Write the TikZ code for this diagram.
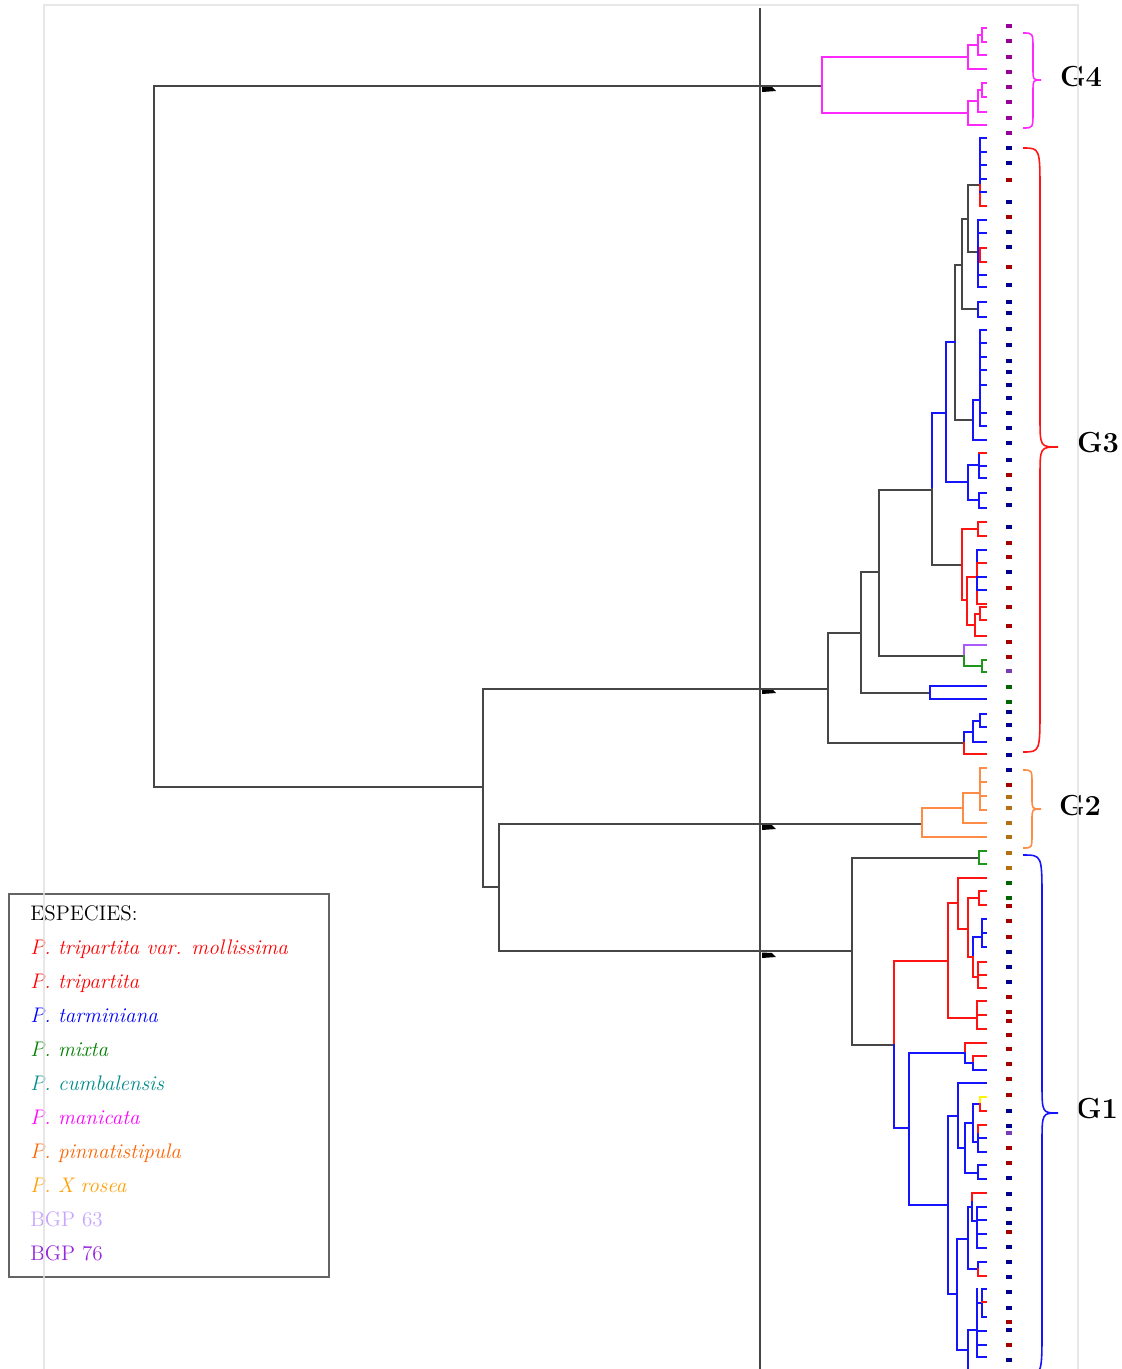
\documentclass[tikz,border=0pt]{standalone}
\usepackage{tikz}

\definecolor{treegray}{RGB}{70,70,70}
\definecolor{tblue}{RGB}{20,20,255}
\definecolor{tred}{RGB}{255,20,20}
\definecolor{tmag}{RGB}{255,40,255}
\definecolor{torange}{RGB}{255,140,70}
\definecolor{tgreen}{RGB}{30,150,30}
\definecolor{tpurple}{RGB}{170,90,255}
\definecolor{tyellow}{RGB}{255,245,0}
\definecolor{labB}{RGB}{0,0,140}
\definecolor{labR}{RGB}{165,0,0}
\definecolor{labP}{RGB}{150,0,150}
\definecolor{labO}{RGB}{180,110,20}
\definecolor{labG}{RGB}{0,100,0}
\definecolor{labV}{RGB}{120,60,180}
\definecolor{lred}{RGB}{255,0,0}
\definecolor{lblue}{RGB}{0,0,255}
\definecolor{lgreen}{RGB}{0,128,0}
\definecolor{lteal}{RGB}{0,140,140}
\definecolor{lmag}{RGB}{255,0,255}
\definecolor{lpinna}{RGB}{255,100,0}
\definecolor{lrosea}{RGB}{255,160,0}
\definecolor{lbgpa}{RGB}{200,165,255}
\definecolor{lbgpb}{RGB}{150,40,220}
\definecolor{framegray}{RGB}{225,225,225}

\tikzset{
  branch/.style={line width=1.1pt, line cap=rect},
  gbrace/.style={line width=0.9pt},
  glabel/.style={font=\fontsize{16.5}{19}\selectfont\bfseries},
  legtext/.style={font=\fontsize{12}{14}\selectfont, anchor=base west, inner sep=0pt}
}

\begin{document}
\begin{tikzpicture}[x=0.02cm,y=-0.02cm]
  \useasboundingbox (0,0) rectangle (1122,1369);
  \clip (0,0) rectangle (1122,1369);

  % Eje de corte
  \draw[treegray, line width=1.4pt] (760,8) -- (760,1369);
  \foreach \y in {86,688,824,952}
    \fill[black] (762,\y+0.5) -- (772,\y+1) -- (776,\y+5) -- (762,\y+6) -- cycle;

  % Clados: X/ya/xa/yb/xb/color arriba/color abajo
  \foreach \X/\ya/\xa/\yb/\xb/\ca/\cb in {
      154/86/822/787/483/treegray/treegray, 483/689/828/887/499/treegray/treegray,
      499/824/922/951/852/treegray/treegray, 852/858/979/1045/894/treegray/treegray,
      828/633/861/743/964/treegray/treegray, 861/572/879/693/930/treegray/treegray,
      879/490/932/656/964/treegray/treegray, 955/265/962/420/973/treegray/treegray,
      962/219/968/309/978/treegray/treegray, 968/185/980/252/978/treegray/treegray,
      932/413/946/565/962/tblue/treegray,
      % G4
      822/57/968/113/968/tmag/tmag, 968/45/978/69/986/tmag/tmag,
      978/35/982/55/986/tmag/tmag, 982/28/986/42/986/tmag/tmag,
      968/101/978/125/986/tmag/tmag, 978/90/982/112/986/tmag/tmag,
      982/83/986/97/986/tmag/tmag,
      % G3
      946/342/955/482/968/tblue/tblue, 968/465/979/500/979/tblue/tblue,
      962/529/978/600/967/tred/tred, 967/577/977/625/975/tred/tred,
      964/645/986/666/982/tpurple/tgreen, 930/686/986/699/986/tblue/tblue,
      964/732/973/754/986/tblue/tred, 973/721/980/742/986/tblue/tblue,
      980/714/986/727/986/tblue/tblue,
      % G2
      922/808/963/837/986/torange/torange, 963/793/980/823/986/torange/torange,
      % G1
      979/851/986/864/986/tgreen/tgreen, 894/961/948/1128/909/tred/tblue,
      948/903/958/1018/977/tred/tred, 958/878/986/929/968/tred/tred,
      968/898/979/957/973/tred/tred, 979/891/986/905/986/tred/tred,
      973/937/982/977/978/tblue/tred, 909/1053/965/1205/948/tblue/tblue,
      965/1043/986/1063/973/tred/tblue, 973/1056/986/1070/986/tred/tblue,
      948/1116/958/1294/957/tblue/tblue, 958/1083/986/1148/965/tblue/tblue,
      965/1123/973/1173/978/tblue/tblue, 973/1104/980/1142/978/tblue/tblue,
      980/1097/986/1111/986/tyellow/tred, 978/1165/986/1179/986/tblue/tblue,
      957/1239/968/1350/968/tblue/tblue, 968/1207/972/1269/978/tblue/tblue,
      978/1262/986/1276/986/tblue/tred}
  {
    \draw[branch,\ca] (\xa,\ya) -- (\X,\ya) -- (\X,{(\ya+\yb)/2});
    \draw[branch,\cb] (\X,{(\ya+\yb)/2}) -- (\X,\yb) -- (\xb,\yb);
  }

  % Tallos sueltos: X/ya/yb/color
  \foreach \X/\ya/\yb/\c in {
      980/138/192/tblue, 980/185/206/tred, 978/220/287/tblue, 980/248/262/tred,
      978/302/317/tblue, 973/400/440/tblue, 980/330/426/tblue, 979/453/478/tblue,
      979/493/508/tblue, 978/522/536/tred, 977/550/604/tred, 977/550/563/tblue,
      977/577/590/tblue, 975/614/636/tred, 980/607/620/tred, 982/660/672/tgreen,
      980/768/810/torange, 982/919/947/tblue, 978/962/988/tred, 977/1001/1029/tred,
      978/1125/1152/tblue, 978/1125/1132/tred, 972/1193/1221/tblue, 972/1193/1200/tred,
      977/1207/1248/tblue, 968/1330/1380/tblue, 977/1289/1357/tblue, 982/1289/1317/tblue}
    \draw[branch,\c] (\X,\ya) -- (\X,\yb);

  % Ramas hacia las hojas: desde/hasta/y/color
  \foreach \from/\to/\y/\c in {
      980/986/138/tblue, 980/986/152/tblue, 980/986/165/tblue, 980/986/179/tblue,
      980/986/192/tblue, 980/986/206/tred, 978/986/220/tblue, 978/986/233/tblue,
      980/986/248/tred, 980/986/262/tred, 978/986/275/tblue, 978/986/287/tblue,
      978/986/302/tblue, 978/986/317/tblue, 973/980/400/tblue, 973/986/440/tblue,
      980/986/330/tblue, 980/986/343/tblue, 980/986/357/tblue, 980/986/370/tblue,
      980/986/385/tblue, 980/986/413/tblue, 980/986/426/tblue,
      979/986/453/tred, 979/986/466/tblue, 979/986/478/tblue, 979/986/493/tblue,
      979/986/508/tblue, 978/986/522/tred, 978/986/536/tred, 977/986/550/tblue,
      977/986/563/tred, 977/986/577/tblue, 977/986/590/tblue, 977/986/604/tred,
      975/980/614/tred, 980/986/607/tred, 980/986/620/tred, 975/986/636/tred,
      982/986/660/tgreen, 982/986/672/tgreen,
      980/986/768/torange, 980/986/782/torange, 980/986/796/torange, 980/986/810/torange,
      982/986/919/tblue, 982/986/933/tblue, 982/986/947/tblue, 978/986/962/tred,
      978/986/975/tred, 978/986/988/tred, 977/986/1001/tred, 977/986/1015/tred,
      977/986/1029/tred, 978/986/1125/tred, 978/986/1138/tblue, 978/986/1152/tblue,
      972/986/1193/tred, 972/977/1221/tblue, 977/986/1207/tblue, 977/986/1220/tblue,
      977/986/1234/tblue, 977/986/1248/tblue, 968/977/1330/tblue, 977/982/1303/tblue,
      982/986/1289/tblue, 982/986/1302/tred, 982/986/1317/tblue, 977/986/1331/tblue,
      977/986/1345/tblue, 977/986/1357/tblue}
    \draw[branch,\c] (\from,\y) -- (\to,\y);

  % Etiquetas de las hojas
  \foreach \y/\c in {26/labP,41/labP,57/labP,72/labP,87/labP,102/labP,118/labP,133/labP,
      148/labB,163/labB,180/labR,202/labB,217/labR,232/labB,247/labB,267/labR,285/labB,
      302/labB,313/labB,329/labB,345/labB,361/labB,372/labB,385/labB,398/labB,413/labB,
      428/labB,443/labB,460/labB,475/labR,489/labB,505/labB,527/labB,543/labR,557/labR,
      572/labB,588/labR,607/labR,626/labR,642/labR,657/labR,671/labV,687/labG,702/labG,
      712/labB,725/labB,739/labB,755/labB,770/labB,785/labR,797/labO,808/labO,823/labO,
      837/labO,853/labO,868/labO,883/labG,898/labG,906/labR,921/labR,937/labR,952/labB,
      967/labB,982/labB,997/labR,1012/labR,1021/labR,1035/labR,1049/labR,1064/labR,
      1079/labR,1095/labR,1111/labB,1126/labB,1133/labV,1148/labR,1163/labR,1178/labB,
      1194/labB,1209/labB,1223/labB,1232/labR,1247/labB,1262/labB,1277/labB,1292/labB,
      1308/labB,1322/labR,1330/labB,1345/labR,1360/labB}
    \fill[\c] (1006,\y-2.2) rectangle (1011.5,\y+2.2);

  % Llaves de los grupos
  \foreach \c/\ya/\ym/\yb/\xv/\xt/\ra/\rb in {
      tmag/33/80/128/1033/1041/16/12, tred/148/447/752/1040/1058/45/30,
      torange/770/809/848/1032/1041/14/11, tblue/855/1113/1375/1042/1058/45/30}
    \draw[gbrace,\c] (1023,\ya) .. controls (\xv,\ya) .. (\xv,{\ya+\ra})
      -- (\xv,{\ym-\rb}) .. controls (\xv,\ym) .. (\xt,\ym)
      .. controls (\xv,\ym) .. (\xv,{\ym+\rb})
      -- (\xv,{\yb-\ra}) .. controls (\xv,\yb) .. (1023,\yb);

  \node[glabel] (g4) at (1081,77) {G4};
  \node[glabel] (g3) at (1098,443) {G3};
  \node[glabel] (g2) at (1080,806) {G2};
  \node[glabel] (g1) at (1097,1109) {G1};

  % Leyenda
  \draw[draw={rgb,255:red,100;green,100;blue,100}, line width=1pt, fill=white]
    (9,894) rectangle (329,1277);
  \node[legtext] (legtitle) at (30,920) {ESPECIES:};
  \foreach \i/\c/\t in {1/lred/{P. tripartita var. mollissima}, 2/lred/{P. tripartita},
      3/lblue/{P. tarminiana}, 4/lgreen/{P. mixta}, 5/lteal/{P. cumbalensis},
      6/lmag/{P. manicata}, 7/lpinna/{P. pinnatistipula}, 8/lrosea/{P. X rosea}}
    \node[legtext,\c] (leg\i) at (30,{920+34*\i}) {\textit{\t}};
  \node[legtext,lbgpa] (leg9) at (30,1226) {BGP 63};
  \node[legtext,lbgpb] (leg10) at (30,1260) {BGP 76};

  % Marco
  \draw[framegray, line width=0.7pt, opacity=0.8] (44,1369) -- (44,5) -- (1078,5) -- (1078,1369);
\end{tikzpicture}
\end{document}
